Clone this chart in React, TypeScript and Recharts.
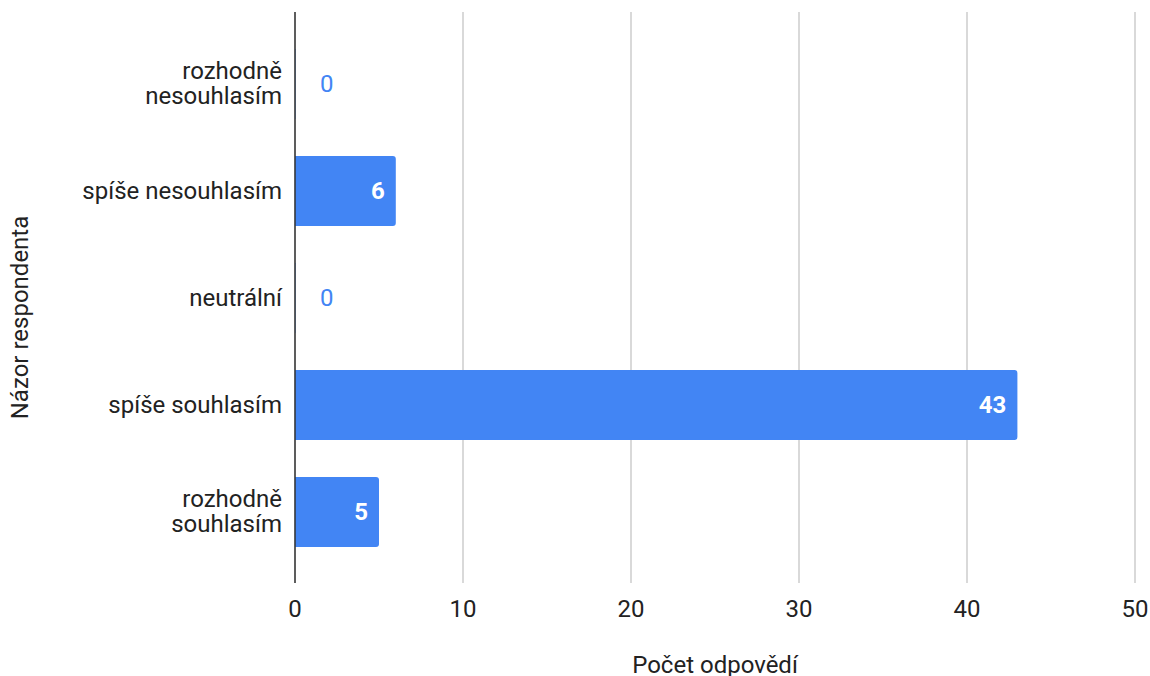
import React from 'react';
import { BarChart, Bar, XAxis, YAxis, CartesianGrid, LabelList } from 'recharts';

// Survey answers (Czech Likert scale) and counts
const CATEGORIES = [
  'rozhodně nesouhlasím',
  'spíše nesouhlasím',
  'neutrální',
  'spíše souhlasím',
  'rozhodně souhlasím',
];
// how each category label wraps on the axis
const CATEGORY_LINES = [
  ['rozhodně', 'nesouhlasím'],
  ['spíše nesouhlasím'],
  ['neutrální'],
  ['spíše souhlasím'],
  ['rozhodně', 'souhlasím'],
];
const COUNTS = [0, 6, 0, 43, 5];
const X_TICKS = [0, 10, 20, 30, 40, 50];

const X_TITLE = 'Počet odpovědí';
const Y_TITLE = 'Názor respondenta';

const BAR_COLOR = '#4285F4';
const TEXT_COLOR = '#222222';
const FONT = 'Roboto, Arial, sans-serif';
const FONT_SIZE = 24;

const data = CATEGORIES.map((name, i) => ({ name, value: COUNTS[i] }));

const CategoryTick = (props: any) => {
  const { x, y, payload } = props;
  const lines: string[] = CATEGORY_LINES[payload.index] ?? [payload.value];
  const lineHeight = 25;
  const startDy = -((lines.length - 1) * lineHeight) / 2;
  return (
    <text x={x} y={y} textAnchor="end" fill={TEXT_COLOR} fontSize={FONT_SIZE} fontFamily={FONT}>
      {lines.map((line, i) => (
        <tspan key={i} x={x} dy={i === 0 ? startDy + FONT_SIZE * 0.35 : lineHeight}>
          {line}
        </tspan>
      ))}
    </text>
  );
};

const ValueTick = (props: any) => {
  const { x, y, payload } = props;
  return (
    <text x={x} y={y + 24} dy="0.35em" textAnchor="middle" fill={TEXT_COLOR} fontSize={FONT_SIZE} fontFamily={FONT}>
      {payload.value}
    </text>
  );
};

const ValueLabel = (props: any) => {
  const { x, y, width, height, value } = props;
  const cy = y + height / 2;
  if (Number(value) === 0) {
    // zero answers: label sits outside the (empty) bar, in bar colour
    return (
      <text x={x + 25} y={cy} dy="0.35em" textAnchor="start" fill={BAR_COLOR} fontSize={FONT_SIZE} fontFamily={FONT}>
        {String(value)}
      </text>
    );
  }
  return (
    <text x={x + width - 11} y={cy} dy="0.35em" textAnchor="end" fill="#ffffff" fontSize={FONT_SIZE} fontWeight="bold" fontFamily={FONT}>
      {value}
    </text>
  );
};

const XTitle = (props: any) => {
  const { viewBox } = props;
  return (
    <text x={viewBox.x + viewBox.width / 2} y={viewBox.y + 90} textAnchor="middle" fill={TEXT_COLOR} fontSize={FONT_SIZE} fontFamily={FONT}>
      {X_TITLE}
    </text>
  );
};

const YTitle = (props: any) => {
  const { viewBox } = props;
  const cx = 20;
  const cy = viewBox.y + viewBox.height / 2 + 20;
  return (
    <text x={cx} y={cy} dy="0.35em" textAnchor="middle" transform={`rotate(-90, ${cx}, ${cy})`} fill={TEXT_COLOR} fontSize={FONT_SIZE} fontFamily={FONT}>
      {Y_TITLE}
    </text>
  );
};

export default function App() {
  return (
    <div style={{ position: 'absolute', left: 0, top: 0, width: 1150, height: 676, background: '#fff', overflow: 'hidden' }}>
      <BarChart
        width={1150}
        height={676}
        data={data}
        layout="vertical"
        margin={{ top: 12, right: 15, bottom: 33, left: 0 }}
      >
        <CartesianGrid horizontal={false} stroke="#cccccc" strokeWidth={1.5} />
        <Bar dataKey="value" fill={BAR_COLOR} barSize={70} minPointSize={0.5} radius={[0, 3, 3, 0]} isAnimationActive={false}>
          <LabelList dataKey="value" content={<ValueLabel />} />
        </Bar>
        <XAxis
          type="number"
          domain={[0, 50]}
          ticks={X_TICKS}
          axisLine={false}
          tickLine={false}
          tickSize={0}
          height={60}
          tick={<ValueTick />}
          label={<XTitle />}
        />
        <YAxis
          type="category"
          dataKey="name"
          width={295}
          padding={{ top: 18, bottom: 18 }}
          axisLine={{ stroke: '#333333', strokeWidth: 1.5 }}
          tickLine={false}
          tickSize={0}
          tickMargin={13}
          tick={<CategoryTick />}
          interval={0}
          label={<YTitle />}
        />
      </BarChart>
    </div>
  );
}
